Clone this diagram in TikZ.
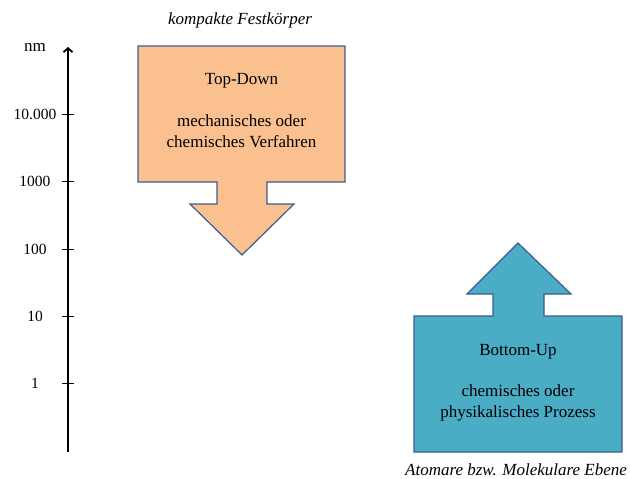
\documentclass[tikz,border=0pt]{standalone}
\usepackage{fontspec}
\setmainfont{Liberation Serif}
\usetikzlibrary{arrows.meta}
\definecolor{topfill}{RGB}{250,192,143}
\definecolor{botfill}{RGB}{75,172,198}
\definecolor{edgeblue}{RGB}{62,92,140}

\begin{document}
\begin{tikzpicture}[>={Straight Barb[length=4pt,width=9pt]},x=1pt,y=-1pt,
  font=\fontsize{17}{21}\selectfont,
  blockarrow/.style={draw=edgeblue,line width=1.2pt,line join=miter}]
\useasboundingbox (0,0) rectangle (630,479);
% Achse
\draw[->,line width=1.8pt] (68,452)--(68,47);
\node (nm) at (35,47) {nm};
\foreach \y/\v [count=\i] in {114/10.000,181/1000,249/100,316/10,383/1} {
  \draw[line width=1pt] (62,\y)--(74,\y);
  \node[font=\fontsize{15.5}{18}\selectfont] (tick\i) at (35,\y) {\v};
}
% Top-Down
\filldraw[blockarrow,fill=topfill] (138,46)--(345,46)--(345,182)--(267,182)--(267,204)--(294,204)
  --(242,255)--(190,204)--(217,204)--(217,182)--(138,182)--cycle;
\node (kompakt) at (240,20) {\itshape kompakte Festkörper};
\node (topdown) at (241.5,81) {Top-Down};
\node[align=center] (topdesc) at (241.5,131) {mechanisches oder\\chemisches Verfahren};
% Bottom-Up
\filldraw[blockarrow,fill=botfill] (414,316)--(493,316)--(493,294)--(467,294)--(518,243)--(571,294)
  --(544,294)--(544,316)--(622,316)--(622,452)--(414,452)--cycle;
\node (bottomup) at (518,352) {Bottom-Up};
\node[align=center] (botdesc) at (518,402.5) {chemisches oder\\physikalisches Prozess};
\node (atomar) at (516,470) {\itshape Atomare bzw. Molekulare Ebene};
\end{tikzpicture}
\end{document}
